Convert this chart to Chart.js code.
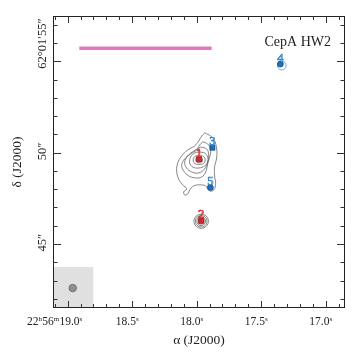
<!DOCTYPE html>
<html>
<head>
<meta charset="utf-8">
<script src="https://cdn.jsdelivr.net/npm/chart.js@4.4.1/dist/chart.umd.min.js"></script>
<style>
  html, body { margin: 0; padding: 0; background: #fff; }
  #wrap { width: 356px; height: 358px; }
</style>
</head>
<body>
<div id="wrap"><canvas id="chart"></canvas></div>
<script>
// RA in seconds of 22h56m, Dec in arcsec of +62°01'
const raMin = 16.85, raMax = 19.114;
const decMin = 41.5, decMax = 57.48;

const raTicks = [19.0, 18.5, 18.0, 17.5, 17.0];
const raTickLabels = ['22h56m19.0s', '18.5s', '18.0s', '17.5s', '17.0s'];
const decTicks = [55, 50, 45];
const decTickLabels = ['62°01′55″', '50″', '45″'];

// sources
const redNames = ['1', '2'];
const redRA = [17.982, 17.965];
const redDec = [49.64, 46.27];
const blueNames = ['3', '4', '5'];
const blueRA = [17.878, 17.351, 17.894];
const blueDec = [50.27, 54.85, 48.09];
const ringRA = [17.340];
const ringDec = [54.765];

// scale bar and beam
const barRA = [18.910, 17.884];
const barDec = 55.72;
const beamBoxRA = [19.3, 18.80];
const beamBoxDec = 43.74;
const beamRA = [18.961];
const beamDec = [42.59];

// continuum contours, [RA s, Dec arcsec]
const contourOuter = [[17.938, 51.08], [17.892, 50.91], [17.861, 50.64], [17.845, 50.20], [17.845, 49.71],
  [17.861, 49.22], [17.861, 48.73], [17.853, 48.29], [17.868, 47.96], [17.899, 47.91], [17.930, 48.18],
  [17.977, 48.24], [18.023, 48.18], [18.054, 47.96], [18.070, 47.74], [18.093, 47.69], [18.101, 47.85],
  [18.078, 48.02], [18.109, 48.24], [18.140, 48.56], [18.155, 49.00], [18.147, 49.44], [18.116, 49.82],
  [18.070, 50.15], [18.016, 50.37], [17.984, 50.64], [17.961, 50.91], [17.938, 51.08]];
const contourSecond = [[17.954, 50.59], [17.915, 50.48], [17.892, 50.15], [17.899, 49.77], [17.915, 49.38],
  [17.930, 48.95], [17.961, 48.67], [18.008, 48.62], [18.062, 48.73], [18.101, 49.00], [18.116, 49.33],
  [18.093, 49.66], [18.047, 49.93], [18.000, 50.15], [17.977, 50.42], [17.954, 50.59]];
const contourMid = [[17.969, 50.31], [17.922, 50.20], [17.907, 49.87], [17.915, 49.49], [17.938, 49.11],
  [17.985, 48.89], [18.039, 48.95], [18.078, 49.16], [18.093, 49.49], [18.070, 49.82], [18.023, 50.09],
  [17.969, 50.31]];
const contourThird = [[17.985, 50.04], [17.938, 49.98], [17.915, 49.77], [17.915, 49.49], [17.938, 49.27],
  [17.985, 49.16], [18.031, 49.22], [18.054, 49.44], [18.047, 49.77], [18.016, 49.98], [17.985, 50.04]];
const contourFourth = [[17.981, 49.85], [17.946, 49.79], [17.934, 49.60], [17.946, 49.41], [17.981, 49.36],
  [18.016, 49.41], [18.027, 49.60], [18.016, 49.79], [17.981, 49.85]];
const contourFifth = [[17.981, 49.77], [17.961, 49.72], [17.954, 49.60], [17.961, 49.49], [17.981, 49.44],
  [18.000, 49.49], [18.008, 49.60], [18.000, 49.72], [17.981, 49.77]];
const contourSixth = [[17.981, 49.68], [17.967, 49.60], [17.981, 49.52], [17.995, 49.60], [17.981, 49.68]];
const ringA = [[17.965, 46.645], [17.926, 46.530], [17.909, 46.252], [17.926, 45.974], [17.965, 45.859],
  [18.004, 45.974], [18.021, 46.252], [18.004, 46.530], [17.965, 46.645]];
const ringB = [[17.965, 46.569], [17.933, 46.476], [17.920, 46.252], [17.933, 46.028], [17.965, 45.935],
  [17.997, 46.028], [18.010, 46.252], [17.997, 46.476], [17.965, 46.569]];
const ringC = [[17.965, 46.492], [17.941, 46.422], [17.931, 46.252], [17.941, 46.082], [17.965, 46.012],
  [17.989, 46.082], [17.999, 46.252], [17.989, 46.422], [17.965, 46.492]];
const ringD = [[17.965, 46.416], [17.949, 46.368], [17.942, 46.252], [17.949, 46.136], [17.965, 46.088],
  [17.982, 46.136], [17.988, 46.252], [17.982, 46.368], [17.965, 46.416]];

const serif = '"Liberation Serif", "DejaVu Serif", serif';

function pts(ra, dec) {
  return ra.map((r, i) => ({ x: r, y: dec[i] }));
}

function contourSet(list) {
  return {
    data: list.map(p => ({ x: p[0], y: p[1] })),
    borderColor: '#5c5c5c',
    borderWidth: 0.75,
    pointRadius: 0,
    tension: 0.4,
    fill: false,
    order: 2
  };
}

// draws "22h56m19.0s" with h, m, s as superscripts
function drawSupText(ctx, text, x, y) {
  const parts = text.match(/[0-9.]+|[hms]/g);
  const big = '11.5px ' + serif, small = '7px ' + serif;
  let w = 0;
  parts.forEach(p => {
    ctx.font = /[hms]/.test(p) ? small : big;
    w += ctx.measureText(p).width;
  });
  let cx = x - w;
  ctx.textAlign = 'left';
  parts.forEach(p => {
    const sup = /[hms]/.test(p);
    ctx.font = sup ? small : big;
    ctx.fillText(p, cx, sup ? y - 4.5 : y);
    cx += ctx.measureText(p).width + (sup ? 0.3 : 0);
  });
}

const framePlugin = {
  id: 'frame',
  afterDatasetsDraw(chart) {
    const ctx = chart.ctx;
    // source numbers: light fill with a darker outline
    const labelSets = [[0, redNames, '#f08a8a', '#d62728'], [1, blueNames, '#9cc7ec', '#3b86c8']];
    ctx.save();
    ctx.font = '12.5px ' + serif;
    ctx.textAlign = 'center';
    ctx.textBaseline = 'alphabetic';
    ctx.lineWidth = 0.7;
    labelSets.forEach(([idx, names, fillColor, edgeColor]) => {
      const meta = chart.getDatasetMeta(idx);
      ctx.fillStyle = fillColor;
      ctx.strokeStyle = edgeColor;
      meta.data.forEach((el, i) => {
        ctx.fillText(names[i], el.x, el.y - 2.5);
        ctx.strokeText(names[i], el.x, el.y - 2.5);
      });
    });
    ctx.restore();
  },
  afterDraw(chart) {
    const ctx = chart.ctx;
    const a = chart.chartArea;
    const xs = chart.scales.x, ys = chart.scales.y;
    ctx.save();
    ctx.strokeStyle = '#222';
    ctx.lineWidth = 1;
    ctx.strokeRect(a.left + 0.5, a.top + 0.5, a.right - a.left - 1, a.bottom - a.top - 1);

    ctx.strokeStyle = '#333';
    ctx.beginPath();
    for (let k = 169; k <= 191; k++) {
      const px = Math.round(xs.getPixelForValue(k / 10)) + 0.5;
      const len = k % 5 === 0 ? 7 : 4;
      ctx.moveTo(px, a.bottom); ctx.lineTo(px, a.bottom - len);
      ctx.moveTo(px, a.top); ctx.lineTo(px, a.top + len);
    }
    for (let k = 42; k <= 57; k++) {
      const py = Math.round(ys.getPixelForValue(k)) + 0.5;
      const len = k % 5 === 0 ? 8 : 4.5;
      ctx.moveTo(a.left, py); ctx.lineTo(a.left + len, py);
      ctx.moveTo(a.right, py); ctx.lineTo(a.right - len, py);
    }
    ctx.stroke();

    ctx.fillStyle = '#222';
    ctx.textBaseline = 'alphabetic';
    raTicks.forEach((v, i) => {
      const px = xs.getPixelForValue(v);
      drawSupText(ctx, raTickLabels[i], px + (i === 0 ? 14 : 6.5), 325);
    });
    decTicks.forEach((v, i) => {
      const py = ys.getPixelForValue(v);
      ctx.save();
      ctx.translate(45.5, py + 7.5);
      ctx.rotate(-Math.PI / 2);
      ctx.font = '12.5px ' + serif;
      ctx.textAlign = 'left';
      ctx.fillText(decTickLabels[i], 0, 0);
      ctx.restore();
    });

    ctx.font = '13.5px ' + serif;
    ctx.textAlign = 'center';
    ctx.fillText('α (J2000)', (a.left + a.right) / 2, 344);
    ctx.save();
    ctx.translate(21, (a.top + a.bottom) / 2);
    ctx.rotate(-Math.PI / 2);
    ctx.fillText('δ (J2000)', 0, 0);
    ctx.restore();

    ctx.font = '14px ' + serif;
    ctx.textAlign = 'right';
    ctx.fillText('CepA HW2', 331, 46);
    ctx.restore();
  }
};

const datasets = [
  {
    data: pts(redRA, redDec),
    showLine: false,
    pointStyle: 'rect',
    pointRadius: 3.6,
    pointBackgroundColor: '#d62728',
    pointBorderColor: '#7a0a0a',
    pointBorderWidth: 0.6,
    order: 0
  },
  {
    data: pts(blueRA, blueDec),
    showLine: false,
    pointStyle: ['rect', 'circle', 'circle'],
    pointRadius: [3.6, 3, 3],
    pointBackgroundColor: '#1f6fb4',
    pointBorderColor: '#0b3a66',
    pointBorderWidth: 0.6,
    order: 0
  },
  {
    data: pts(ringRA, ringDec),
    showLine: false,
    pointStyle: 'circle',
    pointRadius: 4.3,
    pointBackgroundColor: '#ffffff',
    pointBorderColor: '#6fa8d8',
    pointBorderWidth: 1,
    order: 1
  },
  {
    data: pts(beamRA, beamDec),
    showLine: false,
    pointStyle: 'circle',
    pointRadius: 3.8,
    pointBackgroundColor: '#8f8f8f',
    pointBorderColor: '#6a6a6a',
    pointBorderWidth: 0.8,
    order: 0
  },
  contourSet(contourOuter),
  contourSet(contourSecond),
  contourSet(contourMid),
  contourSet(contourThird),
  contourSet(contourFourth),
  contourSet(contourFifth),
  contourSet(contourSixth),
  contourSet(ringA),
  contourSet(ringB),
  contourSet(ringC),
  contourSet(ringD),
  {
    data: barRA.map(r => ({ x: r, y: barDec })),
    borderColor: '#e377c2',
    borderWidth: 3.5,
    borderCapStyle: 'butt',
    pointRadius: 0,
    fill: false,
    order: 3
  },
  {
    data: beamBoxRA.map(r => ({ x: r, y: beamBoxDec })),
    borderWidth: 0,
    borderColor: 'rgba(0,0,0,0)',
    backgroundColor: '#e0e0e0',
    pointRadius: 0,
    fill: 'start',
    order: 5
  }
];

new Chart(document.getElementById('chart'), {
  type: 'line',
  data: { datasets: datasets },
  options: {
    responsive: true,
    maintainAspectRatio: false,
    animation: false,
    events: [],
    layout: { padding: { left: 53, top: 16, right: 11, bottom: 50 } },
    scales: {
      x: { type: 'linear', display: false, min: raMin, max: raMax, reverse: true },
      y: { type: 'linear', display: false, min: decMin, max: decMax }
    },
    plugins: { legend: { display: false }, tooltip: { enabled: false } }
  },
  plugins: [framePlugin]
});
</script>
</body>
</html>
